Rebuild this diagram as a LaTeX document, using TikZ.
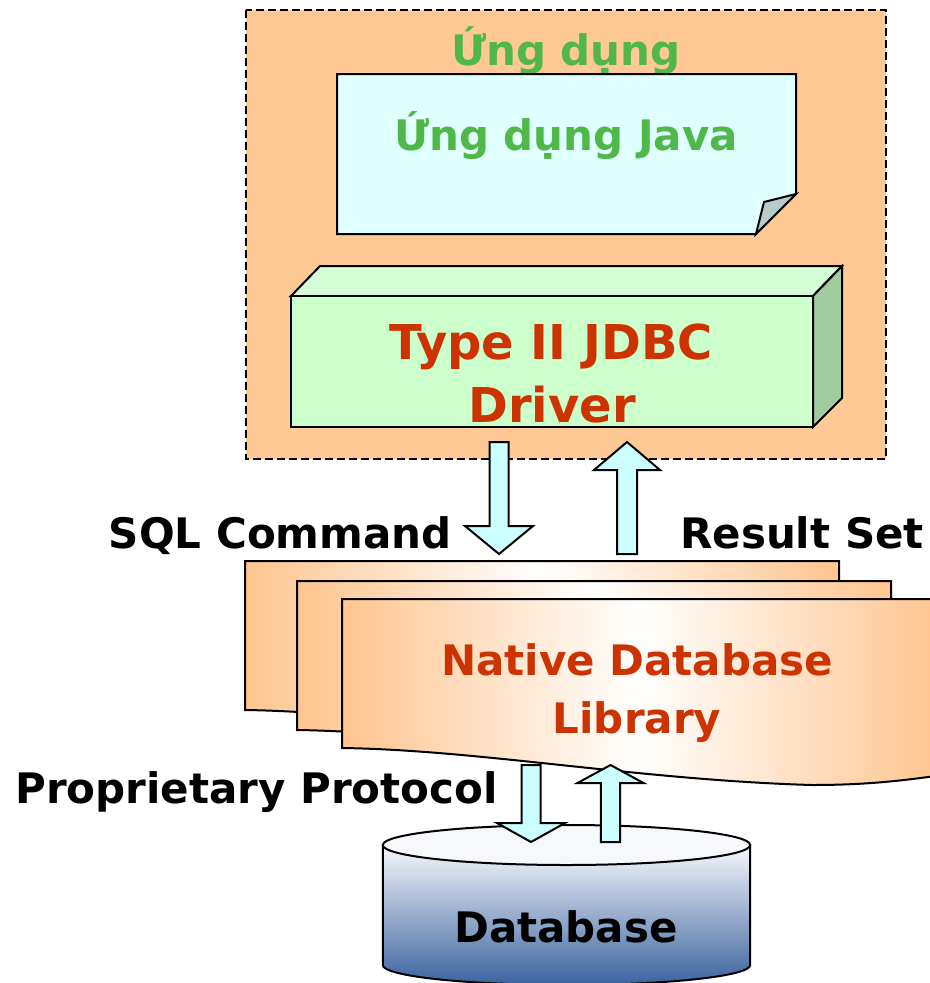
\documentclass[tikz,border=0pt]{standalone}
\usepackage{fontspec}
\setmainfont{DejaVu Sans}

\definecolor{boxpeach}{HTML}{FFC995}
\definecolor{docpeach}{HTML}{FFC58F}
\definecolor{appgreen}{HTML}{50B848}
\definecolor{notecyan}{HTML}{E0FFFF}
\definecolor{foldgrey}{HTML}{B8CCCC}
\definecolor{drvfront}{HTML}{CCFFCC}
\definecolor{drvtop}{HTML}{D6FED6}
\definecolor{drvside}{HTML}{A0CCA0}
\definecolor{drvred}{HTML}{CC3300}
\definecolor{arrowcyan}{HTML}{CCFFFF}
\definecolor{dbtop}{HTML}{F7F8FB}
\definecolor{dbmid}{HTML}{C8D0DE}
\definecolor{dbbottom}{HTML}{3A63A0}

\tikzset{
  outline/.style={draw=black, line width=1.5pt, line join=miter},
  blockarrow/.style={outline, fill=arrowcyan},
  txt/.style={inner sep=0pt, font=\bfseries\fontsize{31.5}{38}\selectfont},
  greentxt/.style={txt, text=appgreen},
  redtxt/.style={txt, text=drvred},
  bigred/.style={txt, text=drvred, font=\bfseries\fontsize{36}{43}\selectfont},
  docfill/.style={outline, left color=docpeach, right color=docpeach, middle color=white},
}

% block arrow: centre x, tail y, head-base y, tip y, shaft half width, head half width
\newcommand\blockarr[6]{%
  \path[blockarrow] ({#1-#5},#2) -- ({#1-#5},#3) -- ({#1-#6},#3) -- (#1,#4)
    -- ({#1+#6},#3) -- ({#1+#5},#3) -- ({#1+#5},#2) -- cycle;}

% wavy document sheet: left x, top y (width 594, side height 149)
\newcommand\docsheet[2]{%
  \path[docfill] (#1,#2) -- ({#1+594},#2) -- ({#1+594},{#2+177})
    .. controls ({#1+563},{#2+181}) and ({#1+528},{#2+186}) .. ({#1+470},{#2+186})
    .. controls ({#1+298},{#2+181}) and ({#1+138},{#2+151}) .. (#1,{#2+149}) -- cycle;}

\begin{document}
\begin{tikzpicture}[x=0.75pt, y=-0.75pt]
\clip (0,0) rectangle (930,983);

% application container
\path[fill=boxpeach, draw=black, line width=1.1pt, dash pattern=on 6pt off 3pt]
  (246,10) rectangle (886,459);
\node[greentxt, anchor=base] (apptitle) at (566,65) {Ứng dụng};

% Java application note with folded corner
\path[outline, fill=notecyan] (337,74) -- (796,74) -- (796,194) -- (756,234) -- (337,234) -- cycle;
\path[outline, fill=foldgrey] (796,194) -- (764,202) -- (756,234) -- cycle;
\node[greentxt, anchor=base] (javaapp) at (566,150) {Ứng dụng Java};

% Type II driver block
\path[outline, fill=drvtop] (291,296) -- (320,266) -- (842,266) -- (813,296) -- cycle;
\path[outline, fill=drvside] (813,296) -- (842,266) -- (842,398) -- (813,427) -- cycle;
\path[outline, fill=drvfront] (291,296) rectangle (813,427);
\node[bigred, anchor=base] (drv1) at (551,359) {Type II JDBC};
\node[bigred, anchor=base] (drv2) at (552,422) {Driver};

% native library sheets
\docsheet{245}{561}
\docsheet{297}{581}
\docsheet{342}{599}
\node[redtxt, anchor=base] (lib1) at (637,675) {Native Database};
\node[redtxt, anchor=base] (lib2) at (637,733) {Library};

% database cylinder
\path[outline, top color=dbtop, middle color=dbmid, bottom color=dbbottom]
  (382.8,845) -- (382.8,965)
  .. controls (382.8,976.05) and (465,985) .. (566.5,985)
  .. controls (668,985) and (750.2,976.05) .. (750.2,965)
  -- (750.2,845) -- cycle;
\path[outline, fill=dbtop] (566.5,845) ellipse [x radius=183.7, y radius=20];
\node[txt, anchor=base] (dbname) at (566,942) {Database};

% data flow arrows
\blockarr{499}{442}{526}{554}{9.5}{34}
\blockarr{627}{554}{470}{442}{10}{33}
\blockarr{531}{765}{823}{842}{9.5}{34}
\blockarr{610.5}{842}{783}{765}{9.7}{33}

% flow labels
\node[txt, anchor=base east] (sqlcmd) at (452,548) {SQL Command};
\node[txt, anchor=base west] (resset) at (680,548) {Result Set};
\node[txt, anchor=base west] (proto) at (15,803) {Proprietary Protocol};
\end{tikzpicture}
\end{document}
